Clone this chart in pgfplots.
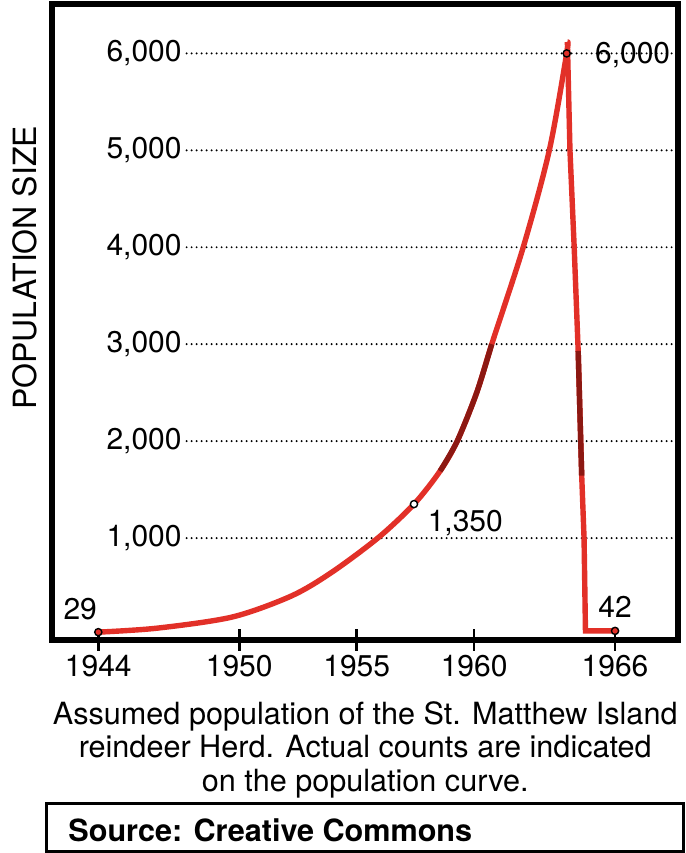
\documentclass[border=0pt]{standalone}
\usepackage{fontspec}
\setmainfont{TeX Gyre Heros}
\usepackage{pgfplots}
\pgfplotsset{compat=1.18}
\usetikzlibrary{calc}
\definecolor{herdred}{RGB}{226,48,40}
\definecolor{herddark}{RGB}{140,24,18}
\newcommand{\numfont}{\fontsize{15}{17}\selectfont}
\newcommand{\capfont}{\fontsize{15.3}{18}\selectfont}
\tikzset{
  gridline/.style = {black, line width=1.1pt, line cap=round, dash pattern=on 0pt off 2.5pt},
  herd/.style     = {herdred, line width=2.7pt, line join=round},
}

\begin{document}
\begin{tikzpicture}
\begin{axis}[
  name=ax,
  scale only axis,
  width=312.75pt, height=318pt,
  xmin=1942.05, xmax=1968.68,
  ymin=-52, ymax=6510,
  axis line style={line width=3pt},
  xtick={1944,1950,1955,1960,1966},
  ytick={1000,2000,3000,4000,5000,6000},
  xtick pos=bottom, ytick pos=left,
  /pgf/number format/assume math mode=true,
  x tick label style={/pgf/number format/1000 sep={}},
  y tick label style={/pgf/number format/1000 sep={,}},
  tick label style={font=\numfont},
  xtick style={line width=1.3pt, black},
  ytick style={draw=none},
  tick align=center,
  major tick length=11pt,
  yticklabel style={anchor=east, inner sep=0pt, xshift=70.25pt},
  xticklabel style={anchor=north, inner sep=0pt, yshift=-2pt},
  ylabel={POPULATION SIZE},
  ylabel style={at={(rel axis cs:0,0.585)}, anchor=center, yshift=13.75pt,
                font=\fontsize{16}{18}\selectfont},
  clip=false,
]
% dotted guide lines
\addplot[gridline] coordinates {(1947.76,1000)(1968.42,1000)};
\addplot[gridline] coordinates {(1947.76,2000)(1968.42,2000)};
\addplot[gridline] coordinates {(1947.76,3000)(1968.42,3000)};
\addplot[gridline] coordinates {(1947.76,4000)(1968.42,4000)};
\addplot[gridline] coordinates {(1947.76,5000)(1968.42,5000)};
\addplot[gridline] coordinates {(1947.76,6000)(1968.42,6000)};

% growth
\addplot[herd, smooth] coordinates {
  (1944,29) (1946.5,70) (1949.7,185) (1952.2,400) (1953.9,640)
  (1955.9,1000) (1957.44,1350) (1958.55,1691) (1959.28,2000)
  (1960.11,2500) (1960.75,3000) (1962.09,4000) (1963.2,5000)
  (1963.94,6000) (1963.97,6118)};
% crash
\addplot[herd, line join=miter] coordinates {
  (1963.97,6118) (1964.08,5000) (1964.26,4000) (1964.43,2930)
  (1964.58,1644) (1964.68,1000) (1964.74,42) (1966,42)};
% darker stretches
\addplot[herddark, line width=2.7pt, smooth] coordinates {
  (1958.55,1691) (1959.28,2000) (1960.11,2500) (1960.75,3000)};
\addplot[herddark, line width=2.7pt] coordinates {(1964.43,2930) (1964.58,1644)};

% counts
\addplot[only marks, mark=*, mark size=1.8pt,
  mark options={draw=black, fill=herdred, line width=0.7pt}]
  coordinates {(1944,29) (1963.94,6000) (1966,42)};
\addplot[only marks, mark=*, mark size=1.8pt,
  mark options={draw=black, fill=white, line width=0.7pt}]
  coordinates {(1957.44,1350)};

\node[anchor=base east, inner sep=0pt, font=\numfont, xshift=-0.5pt, yshift=6.35pt] at (axis cs:1944,29) {29};
\node[anchor=base, inner sep=0pt, font=\numfont, yshift=6.45pt] at (axis cs:1966,42) {42};
\node[anchor=base west, inner sep=0pt, font=\numfont, xshift=6.7pt, yshift=-13.85pt] at (axis cs:1957.44,1350) {1,350};
\node[anchor=base west, inner sep=0pt, font=\numfont, xshift=14pt, yshift=-4.85pt] at (axis cs:1963.94,6000) {6,000};
\end{axis}

\node[anchor=base, font=\capfont] at ($(ax.south)+(0,-42pt)$) {Assumed population of the St. Matthew Island};
\node[anchor=base, font=\capfont] at ($(ax.south)+(0,-59pt)$) {reindeer Herd. Actual counts are indicated};
\node[anchor=base, font=\capfont] at ($(ax.south)+(0,-75.5pt)$) {on the population curve.};
\draw[line width=1.5pt] ($(ax.south west)+(-3.25pt,-81.5pt)$) rectangle ($(ax.south east)+(2.5pt,-105.5pt)$);
\node[anchor=base west, inner sep=0pt, font=\capfont\bfseries] at ($(ax.south west)+(7.75pt,-100.5pt)$) {Source: Creative Commons};

\pgfresetboundingbox
\path[use as bounding box] ($(ax.south west)+(-26.25pt,-106.5pt)$) rectangle ($(ax.north east)+(3.5pt,2pt)$);
\end{tikzpicture}
\end{document}
